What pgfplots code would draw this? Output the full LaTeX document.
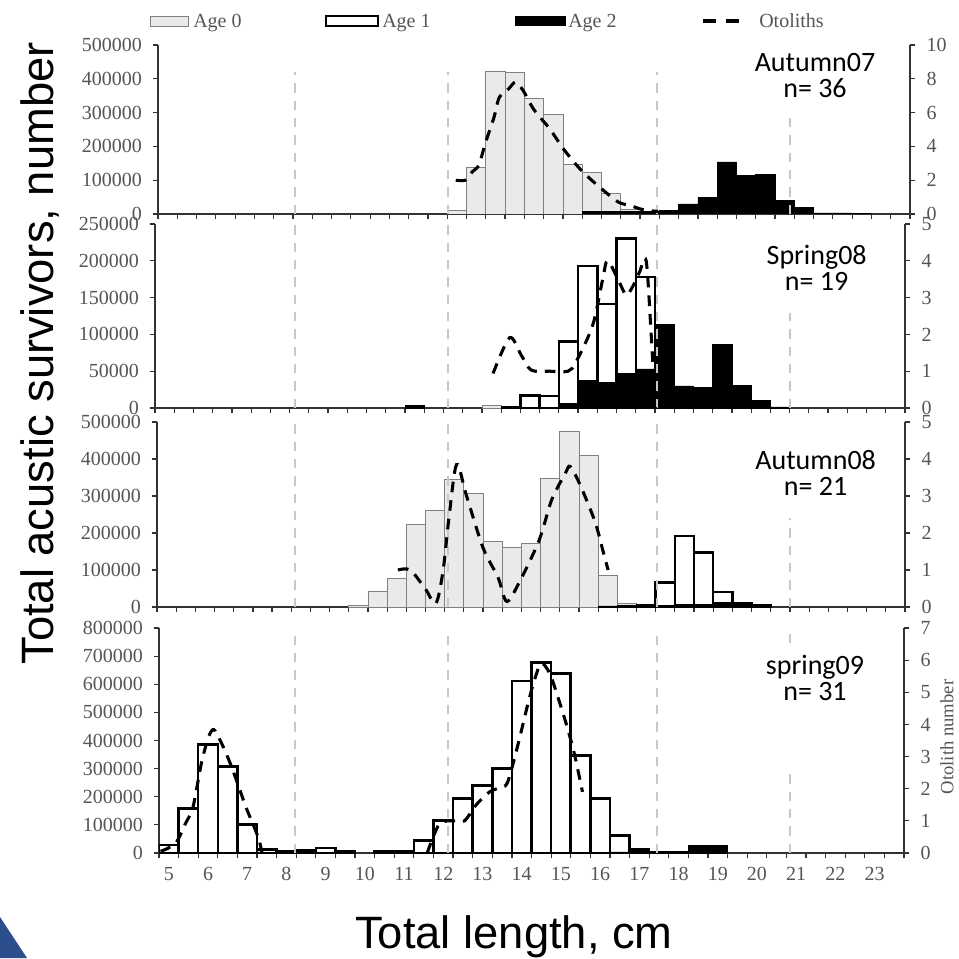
\documentclass[border=0pt]{standalone}
\usepackage{fontspec}
\setmainfont{Liberation Serif}
\newfontfamily\calibri{Carlito}
\newfontfamily\sansfont{Liberation Sans}
\usepackage{graphicx}
\usepackage{pgfplots}
\pgfplotsset{compat=1.18}

\definecolor{agezerofill}{RGB}{234,234,234}
\definecolor{agezeroedge}{RGB}{128,128,128}
\definecolor{ticktext}{RGB}{85,85,85}
\definecolor{guide}{RGB}{200,200,200}
\definecolor{slideblue}{RGB}{44,78,140}

\pgfplotsset{
  /pgf/number format/assume math mode=true,
  panel/.style={
    scale only axis, anchor=south west, enlargelimits=false,
    xmin=4.75, xmax=24.25, ymin=0,
    axis x line*=bottom, axis y line*=left,
    tick align=outside, major tick length=4pt,
    xtick={4.75,5.25,...,24.25}, xticklabels={},
    scaled y ticks=false,
    yticklabel style={/pgf/number format/fixed, /pgf/number format/1000 sep={}, xshift=-4.5pt},
    tick label style={font=\fontsize{15}{15}\selectfont, text=ticktext},
    axis line style={line width=1pt, black!80},
    tick style={line width=0.9pt, black!80},
  },
  otoaxis/.style={
    scale only axis, anchor=south west, enlargelimits=false,
    xmin=4.75, xmax=24.25, ymin=0,
    axis x line=none, axis y line*=right, xtick=\empty,
    tick align=outside, major tick length=4pt,
    tick label style={font=\fontsize{15}{15}\selectfont, text=ticktext},
    yticklabel style={xshift=5pt},
    axis line style={line width=1pt, black!80},
    tick style={line width=0.9pt, black!80},
  },
  bar age0/.style={ybar, bar width=0.5, bar shift=0pt, fill=agezerofill, draw=agezeroedge, line width=0.6pt},
  bar age1/.style={ybar, bar width=0.5, bar shift=0pt, fill=white, draw=black, line width=1.9pt},
  bar age2/.style={ybar, bar width=0.5, bar shift=0pt, fill=black, draw=black, line width=0.5pt},
  otolith/.style={black, line width=2.3pt, dash pattern=on 8pt off 6pt, smooth, tension=0.5},
  guideline/.style={guide, line width=1.5pt, dash pattern=on 7pt off 6pt},
}

\begin{document}
\begin{tikzpicture}
\useasboundingbox (0,0) rectangle (719.25pt,718.5pt);

% ---------- Autumn07 ----------
\begin{axis}[panel, at={(118.5pt,558pt)}, width=564pt, height=126.75pt,
  ymax=500000, ytick={0,100000,...,500000}]
\addplot[bar age0] coordinates {(12.5,10800) (13,139000) (13.5,422000) (14,420000) (14.5,341000) (15,294000) (15.5,147000) (16,124000) (16.5,60000) (17,15000)};
\addplot[bar age2] coordinates {(16,8000) (16.5,8000) (17,8000) (17.5,8000) (18,10000) (18.5,30000) (19,50000) (19.5,154000) (20,114000) (20.5,117000) (21,40000) (21.5,19000) (22,3000) (22.5,3000) (23,2000)};
\addplot[guideline] coordinates {(8.30,0) (8.30,420000)};
\addplot[guideline] coordinates {(12.27,0) (12.27,420000)};
\addplot[guideline] coordinates {(17.69,0) (17.69,420000)};
\addplot[guideline] coordinates {(21.14,0) (21.14,287000)};
\end{axis}
\begin{axis}[otoaxis, at={(118.5pt,558pt)}, width=564pt, height=126.75pt,
  ymax=10, ytick={0,2,...,10}]
\addplot[otolith] coordinates {(12.47,2.0) (12.72,2.0) (12.90,2.5) (13.07,2.9) (13.24,4.2) (13.46,5.7) (13.60,6.9) (13.84,7.4) (14.02,7.8) (14.22,7.3) (14.49,6.2) (14.92,5.0) (15.28,3.8) (15.76,2.5) (16.30,1.4) (16.69,0.7) (16.99,0.5) (17.34,0.25) (17.72,0.15)};
\end{axis}

% ---------- Spring08 ----------
\begin{axis}[panel, at={(116.25pt,412.5pt)}, width=562.5pt, height=138pt,
  ymax=250000, ytick={0,50000,...,250000}]
\addplot[bar age0] coordinates {(13.5,4000)};
\addplot[bar age1] coordinates {(14.5,17000) (15,16000) (15.5,90000) (16,193000) (16.5,141000) (17,230000) (17.5,178000)};
\addplot[bar age2] coordinates {(11.5,3000) (14,2000) (15.5,6000) (16,37000) (16.5,35000) (17,47000) (17.5,53000) (18,114000) (18.5,30000) (19,28000) (19.5,86000) (20,31000) (20.5,10000) (21,1500)};
\addplot[guideline] coordinates {(8.39,0) (8.39,250000)};
\addplot[guideline] coordinates {(12.37,0) (12.37,250000)};
\addplot[guideline] coordinates {(17.80,0) (17.80,250000)};
\addplot[guideline] coordinates {(21.26,0) (21.26,129000)};
\end{axis}
\begin{axis}[otoaxis, at={(116.25pt,412.5pt)}, width=562.5pt, height=138pt,
  ymax=5, ytick={0,...,5}]
\addplot[otolith] coordinates {(13.54,0.94) (13.97,1.91) (14.27,1.44) (14.53,1.03) (15.0,1.0) (15.49,1.0) (15.70,1.26) (16.13,2.25) (16.39,3.5) (16.52,4.0) (16.83,3.4) (17.00,3.07) (17.17,3.3) (17.35,3.7) (17.52,4.0) (17.65,2.0) (17.76,0)};
\end{axis}

% ---------- Autumn08 ----------
\begin{axis}[panel, at={(117.75pt,263.25pt)}, width=561pt, height=138.75pt,
  ymax=500000, ytick={0,100000,...,500000}]
\addplot[bar age0] coordinates {(10,3000) (10.5,41000) (11,77000) (11.5,222000) (12,262000) (12.5,345000) (13,308000) (13.5,178000) (14,162000) (14.5,172000) (15,348000) (15.5,475000) (16,410000) (16.5,85000) (17,9000) (17.5,3000)};
\addplot[bar age1] coordinates {(18,66000) (18.5,192000) (19,148000) (19.5,40000) (20,9000) (20.5,4000)};
\addplot[bar age2] coordinates {(16.5,3000) (17,4000) (17.5,8000) (18,4000) (18.5,8000) (19,8000) (19.5,12000) (20,8000) (20.5,6000)};
\addplot[guideline] coordinates {(8.35,0) (8.35,500000)};
\addplot[guideline] coordinates {(12.34,0) (12.34,500000)};
\addplot[guideline] coordinates {(17.78,0) (17.78,500000)};
\addplot[guideline] coordinates {(21.25,0) (21.25,240000)};
\end{axis}
\begin{axis}[otoaxis, at={(117.75pt,263.25pt)}, width=561pt, height=138.75pt,
  ymax=5, ytick={0,...,5}]
\addplot[otolith] coordinates {(11.03,1.0) (11.35,1.0) (11.74,0.5) (12.02,0.1) (12.21,1.0) (12.36,2.4) (12.56,3.85) (12.82,3.0) (13.25,1.6) (13.64,0.8) (13.87,0.15) (14.21,0.7) (14.71,1.8) (15.04,2.9) (15.39,3.6) (15.52,3.8) (15.78,3.3) (16.17,2.3) (16.38,1.5) (16.51,1.0)};
\end{axis}

% ---------- spring09 ----------
\begin{axis}[panel, at={(119.25pt,78.75pt)}, width=558.75pt, height=168.75pt,
  xmax=23.75, xtick={4.75,5.25,...,23.75},
  extra x ticks={5,6,...,23},
  extra x tick style={major tick length=0pt, xticklabel style={yshift=-7pt}},
  ymax=800000, ytick={0,100000,...,800000}]
\addplot[bar age1] coordinates {(5,28000) (5.5,158000) (6,385000) (6.5,308000) (7,101000) (7.5,12000) (8,5000) (8.5,8000) (9,18000) (9.5,5000) (10.5,5000) (11,5000) (11.5,44000) (12,116000) (12.5,193000) (13,240000) (13.5,300000) (14,611000) (14.5,677000) (15,639000) (15.5,346000) (16,193000) (16.5,62000) (17,14000) (17.5,4000) (18,4000)};
\addplot[bar age2] coordinates {(16.5,4000) (17,12000) (18.5,28000) (19,28000)};
\addplot[guideline] coordinates {(8.22,0) (8.22,800000)};
\addplot[guideline] coordinates {(12.12,0) (12.12,800000)};
\addplot[guideline] coordinates {(17.45,0) (17.45,800000)};
\addplot[guideline] coordinates {(20.84,0) (20.84,306000)};
\addplot[guideline] coordinates {(20.84,747000) (20.84,800000)};
\end{axis}
\begin{axis}[otoaxis, at={(119.25pt,78.75pt)}, width=558.75pt, height=168.75pt,
  xmax=23.75, ymax=7, ytick={0,...,7}]
\addplot[otolith] coordinates {(4.79,0.05) (5.17,0.3) (5.43,0.93) (5.60,1.35) (5.72,2.07) (5.85,2.9) (6.02,3.63) (6.15,3.84) (6.32,3.48) (6.53,2.9) (6.75,2.18) (6.96,1.45) (7.17,0.83) (7.30,0.41) (7.38,0.0)};
\addplot[otolith] coordinates {(11.59,0.0) (11.90,0.9) (12.28,1.0) (12.54,1.0) (12.84,1.5) (13.18,1.9) (13.48,2.05) (13.64,2.2) (13.89,3.3) (14.15,4.6) (14.33,5.4) (14.50,5.9) (14.71,5.6) (14.91,4.9) (15.14,4.0) (15.34,3.1) (15.55,1.9)};
\end{axis}

% ---------- panel titles ----------
\begin{scope}[every node/.style={font=\calibri\fontsize{21}{19.5}\selectfont, align=center, anchor=north, inner sep=0pt}]
\node at (611.25pt,678.5pt) {Autumn07\\n= 36};
\node at (612.5pt,534.75pt) {Spring08\\n= 19};
\node at (611.75pt,381pt) {Autumn08\\n= 21};
\node at (611.25pt,227.25pt) {spring09\\n= 31};
\end{scope}

% ---------- legend ----------
\begin{scope}[every node/.style={font=\fontsize{15}{15}\selectfont, text=ticktext, anchor=base west, inner sep=0pt}]
\filldraw[fill=agezerofill, draw=agezeroedge, line width=0.6pt] (112.5pt,699pt) rectangle (141pt,706.5pt);
\node at (144.75pt,697.5pt) {Age 0};
\draw[fill=white, draw=black, line width=1.8pt] (244.5pt,699pt) rectangle (283.5pt,706.5pt);
\node at (286.5pt,697.5pt) {Age 1};
\fill[black] (386.25pt,699pt) rectangle (424.5pt,706.5pt);
\node at (426pt,697.5pt) {Age 2};
\draw[black, line width=2.3pt, dash pattern=on 10pt off 7pt] (527.25pt,702.75pt) -- (560.25pt,702.75pt);
\node at (569.25pt,697.5pt) {Otoliths};
\end{scope}

% ---------- axis titles ----------
\node[font=\sansfont\fontsize{34}{34}\selectfont, rotate=90] at (30pt,453.4pt) {Total acustic survivors, number};
\node[font=\sansfont\fontsize{34}{34}\selectfont, anchor=base] at (385.5pt,7.5pt) {Total length, cm};
\node[font=\fontsize{14}{14}\selectfont, text=ticktext, rotate=90] at (710.25pt,165.75pt) {Otolith number};

% slide corner decoration
\fill[slideblue] (0,0) -- (0,30.75pt) -- (20.25pt,0) -- cycle;
\end{tikzpicture}
\end{document}
